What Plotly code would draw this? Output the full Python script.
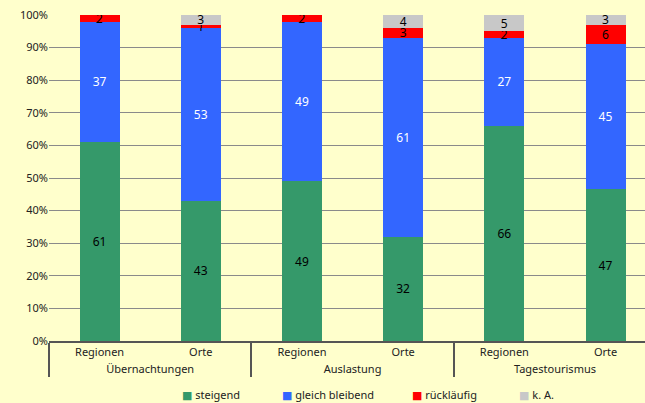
import plotly.graph_objects as go

groups = ["Übernachtungen", "Übernachtungen", "Auslastung", "Auslastung", "Tagestourismus", "Tagestourismus"]
subcats = ["Regionen", "Orte", "Regionen", "Orte", "Regionen", "Orte"]

steigend = [61, 43, 49, 32, 66, 47]
gleich_bleibend = [37, 53, 49, 61, 27, 45]
ruecklaeufig = [2, 1, 2, 3, 2, 6]
ka = [0, 3, 0, 4, 5, 3]

series_names = ["steigend", "gleich bleibend", "rückläufig", "k. A."]
series_colors = ["#35996A", "#3366FF", "#FF0000", "#C8C8C8"]
text_colors = ["black", "white", "black", "black"]
series_values = [steigend, gleich_bleibend, ruecklaeufig, ka]
legend_x = [0.2198, 0.3876, 0.6057, 0.7852]

FONT = "Noto Sans"
fig = go.Figure()
for name, vals, color, tcolor in zip(series_names, series_values, series_colors, text_colors):
    fig.add_trace(go.Bar(
        x=[groups, subcats], y=vals, name=name,
        marker=dict(color=color, line=dict(width=0)),
        text=[str(v) if v else "" for v in vals],
        textposition="inside", insidetextanchor="middle",
        textangle=0,
        textfont=dict(color=tcolor, size=12, family=FONT),
        hoverinfo="skip", showlegend=False,
    ))

# legend drawn as text items
for name, color, lx in zip(series_names, series_colors, legend_x):
    fig.add_annotation(
        xref="paper", yref="paper", x=lx, y=-0.1656, xanchor="left", yanchor="middle",
        text=f'<span style="color:{color};font-family:DejaVu Sans">■</span> {name}',
        showarrow=False, font=dict(size=11, family=FONT, color="#222"),
    )

fig.update_layout(
    barmode="stack", barnorm="percent", bargap=0.605,
    width=645, height=403,
    margin=dict(l=49, r=0, t=15, b=62, autoexpand=False),
    paper_bgcolor="#FFFFCC", plot_bgcolor="#FFFFCC",
    font=dict(family=FONT, size=11, color="#222"),
    uniformtext=dict(minsize=12, mode="show"),
    showlegend=False,
)
fig.update_yaxes(range=[0, 100], dtick=10, ticksuffix="%", showgrid=True,
                 gridcolor="#8a8a8a", gridwidth=1, zeroline=False, showline=False,
                 ticks="", ticklen=0, automargin=False, tickfont=dict(size=11))
fig.update_xaxes(type="multicategory", range=[-0.5, 5.39], showline=True, linecolor="#555",
                 linewidth=2, showdividers=True, dividercolor="#555", dividerwidth=2,
                 ticks="", automargin=False, tickfont=dict(size=11))

fig.write_html("out.html")
